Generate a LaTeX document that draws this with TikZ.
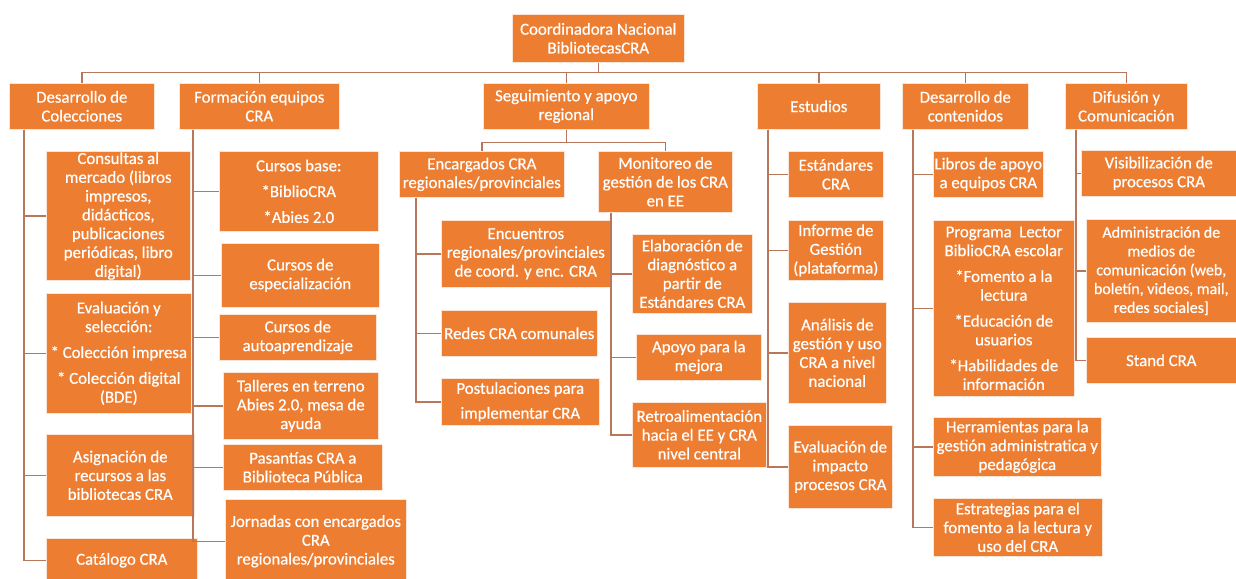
\documentclass[tikz,border=0pt]{standalone}
\usepackage{fontspec}
\setmainfont{Carlito}
\newfontfamily\cajafont{Carlito}[FakeBold=0.6]
\usepackage{tikz}
\usepackage{xcolor}

\definecolor{naranja}{HTML}{ED7D31}
\definecolor{linea}{HTML}{B8775A}

\tikzset{
  caja/.style={fill=naranja, draw=white!80!naranja, line width=0.6pt, text=white,
    align=center, inner sep=1pt, anchor=north west,
    font=\cajafont\fontsize{16.8}{18.8}\selectfont},
  enlace/.style={draw=linea, line width=1.6pt}
}

\begin{document}
\begin{tikzpicture}[x=1pt,y=-1pt]
\useasboundingbox (0,0) rectangle (1236,578);
% raiz y primer nivel
\node[caja, minimum width=172pt, minimum height=48pt] (root) at (512,14) {Coordinadora Nacional\\BibliotecasCRA};
\node[caja, minimum width=145pt, minimum height=46pt] (dc) at (9,83) {Desarrollo de\\Colecciones};
\node[caja, minimum width=160pt, minimum height=46pt] (fe) at (179,83) {Formación equipos\\CRA};
\node[caja, minimum width=166pt, minimum height=46pt] (sa) at (483,83) {Seguimiento y apoyo\\regional};
\node[caja, minimum width=123pt, minimum height=46pt] (es) at (757,83) {Estudios};
\node[caja, minimum width=126pt, minimum height=46pt] (co) at (902,83) {Desarrollo de\\contenidos};
\node[caja, minimum width=122pt, minimum height=46pt] (di) at (1065,83) {Difusión y\\Comunicación};
\foreach \n in {dc,fe,sa,es,co,di}
  \draw[enlace] (root.south) -- ++(0,10) -| (\n.north);

% Desarrollo de Colecciones
\node[caja, minimum width=144pt, minimum height=120pt] (dc1) at (46,151) {Consultas al\\mercado (libros\\impresos,\\didácticos,\\publicaciones\\periódicas, libro\\digital)};
\node[caja, minimum width=145pt, minimum height=120pt] (dc2) at (46,293) {Evaluación y\\selección:\\[7pt]* Colección impresa\\[7pt]* Colección digital\\(BDE)};
\node[caja, minimum width=148pt, minimum height=82pt] (dc3) at (46,434) {Asignación de\\recursos a las\\bibliotecas CRA};
\node[caja, minimum width=151pt, minimum height=44pt] (dc4) at (46,538) {Catálogo CRA};
\foreach \h in {dc1,dc2,dc3,dc4}
  \draw[enlace] ([xshift=15pt]dc.south west) |- (\h.west);

% Formacion equipos CRA
\node[caja, minimum width=159pt, minimum height=80pt] (fe1) at (219,151) {Cursos base:\\[7pt]*BiblioCRA\\[7pt]*Abies 2.0};
\node[caja, minimum width=158pt, minimum height=64pt] (fe2) at (221,243) {Cursos de\\especialización};
\node[caja, minimum width=157pt, minimum height=46pt] (fe3) at (219,314) {Cursos de\\autoaprendizaje};
\node[caja, minimum width=155pt, minimum height=67pt] (fe4) at (223,372) {Talleres en terreno\\Abies 2.0, mesa de\\ayuda};
\node[caja, minimum width=159pt, minimum height=46pt] (fe5) at (223,444) {Pasantías CRA a\\Biblioteca Pública};
\node[caja, minimum width=181pt, minimum height=84pt] (fe6) at (225,499) {Jornadas con encargados\\CRA\\regionales/provinciales};
\foreach \h in {fe1,fe2,fe3,fe4,fe5,fe6}
  \draw[enlace] ([xshift=14pt]fe.south west) |- (\h.west);

% Seguimiento y apoyo regional
\node[caja, minimum width=165pt, minimum height=46pt] (en) at (399,151) {Encargados CRA\\regionales/provinciales};
\node[caja, minimum width=134pt, minimum height=61pt] (mo) at (598,151) {Monitoreo de\\gestión de los CRA\\en EE};
\foreach \n in {en,mo}
  \draw[enlace] (sa.south) -- ++(0,13) -| (\n.north);

\node[caja, minimum width=169pt, minimum height=67pt] (en1) at (441,220) {Encuentros\\regionales/provinciales\\de coord. y enc. CRA};
\node[caja, minimum width=156pt, minimum height=46pt] (en2) at (441,310) {Redes CRA comunales};
\node[caja, minimum width=158pt, minimum height=47pt] (en3) at (441,378) {Postulaciones para\\[6pt]implementar CRA};
\foreach \h in {en1,en2,en3}
  \draw[enlace] ([xshift=17pt]en.south west) |- (\h.west);

\node[caja, minimum width=120pt, minimum height=79pt] (mo1) at (632,234) {Elaboración de\\diagnóstico a\\partir de\\Estándares CRA};
\node[caja, minimum width=125pt, minimum height=46pt] (mo2) at (636,334) {Apoyo para la\\mejora};
\node[caja, minimum width=134pt, minimum height=65pt] (mo3) at (632,402) {Retroalimentación\\hacia el EE y CRA\\nivel central};
\foreach \h in {mo1,mo2,mo3}
  \draw[enlace] ([xshift=13pt]mo.south west) |- (\h.west);

% Estudios
\node[caja, minimum width=95pt, minimum height=46pt] (es1) at (788,151) {Estándares\\CRA};
\node[caja, minimum width=95pt, minimum height=60pt] (es2) at (788,220) {Informe de\\Gestión\\(plataforma)};
\node[caja, minimum width=98pt, minimum height=101pt] (es3) at (788,302) {Análisis de\\gestión y uso\\CRA a nivel\\nacional};
\node[caja, minimum width=104pt, minimum height=83pt] (es4) at (788,425) {Evaluación de\\impacto\\procesos CRA};
\foreach \h in {es1,es2,es3,es4}
  \draw[enlace] ([xshift=11pt]es.south west) |- (\h.west);

% Desarrollo de contenidos
\node[caja, minimum width=110pt, minimum height=46pt] (co1) at (933,151) {Libros de apoyo\\a equipos CRA};
\node[caja, minimum width=141pt, minimum height=176pt] (co2) at (933,220) {Programa\ \ Lector\\BiblioCRA escolar\\[7pt]*Fomento a la\\lectura\\[7pt]*Educación de\\usuarios\\[7pt]*Habilidades de\\información};
\node[caja, minimum width=168pt, minimum height=59pt] (co3) at (933,417) {Herramientas para la\\gestión administratica y\\pedagógica};
\node[caja, minimum width=169pt, minimum height=58pt] (co4) at (933,498) {Estrategias para el\\fomento a la lectura y\\uso del CRA};
\foreach \h in {co1,co2,co3,co4}
  \draw[enlace] ([xshift=11pt]co.south west) |- (\h.west);

% Difusion y Comunicacion
\node[caja, minimum width=155pt, minimum height=46pt] (di1) at (1081,150) {Visibilización de\\procesos CRA};
\node[caja, minimum width=150pt, minimum height=103pt, font=\cajafont\fontsize{16}{18.8}\selectfont] (di2) at (1086,219) {Administración de\\medios de\\comunicación (web,\\boletín, videos, mail,\\redes sociales]};
\node[caja, minimum width=150pt, minimum height=46pt] (di3) at (1086,337) {Stand CRA};
\foreach \h in {di1,di2,di3}
  \draw[enlace] ([xshift=11pt]di.south west) |- (\h.west);
\end{tikzpicture}
\end{document}
